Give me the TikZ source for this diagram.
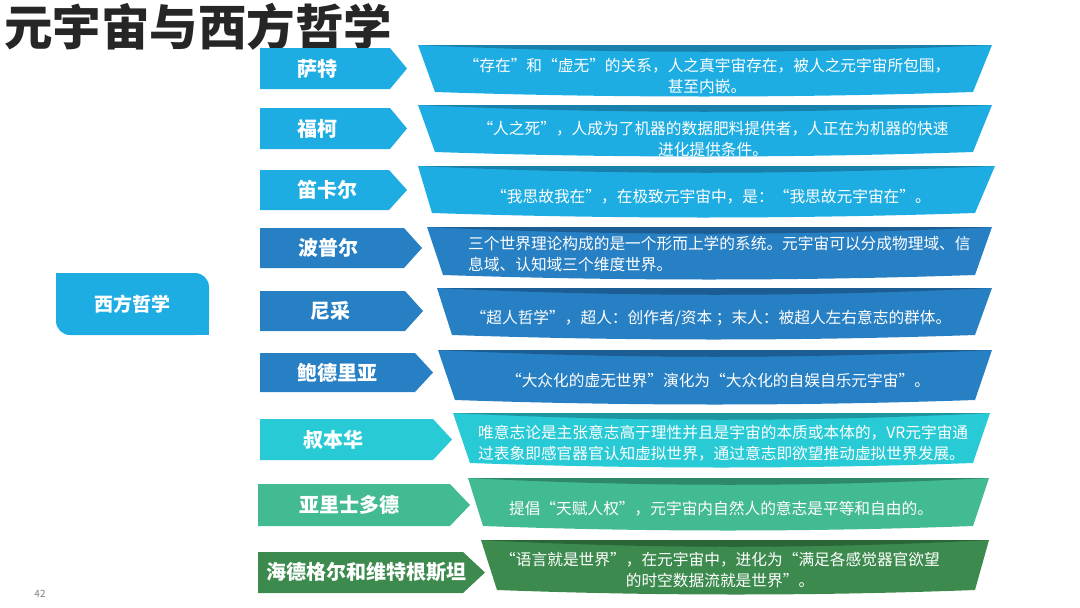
\documentclass[tikz,border=0pt]{standalone}
\usepackage{fontspec}
\setmainfont{Noto Sans CJK SC}
\usepackage{xcolor}
\usepackage{tikz}

\definecolor{skyblue}{RGB}{30,173,226}
\definecolor{skyband}{RGB}{24,128,170}
\definecolor{midblue}{RGB}{40,128,196}
\definecolor{midband}{RGB}{28,94,148}
\definecolor{aqua}{RGB}{40,202,214}
\definecolor{aquaband}{RGB}{30,150,160}
\definecolor{seagreen}{RGB}{66,186,146}
\definecolor{seaband}{RGB}{46,136,106}
\definecolor{leafgreen}{RGB}{60,138,78}
\definecolor{leafband}{RGB}{42,102,56}
\definecolor{titleink}{RGB}{38,38,38}

\begin{document}
\begin{tikzpicture}[
    x=1pt, y=-1pt,
    who/.style={text=white, inner sep=0pt,
        font=\fontsize{20}{24}\selectfont\bfseries},
    say/.style={text=white, inner sep=0pt, align=center,
        font=\fontsize{15.7}{21}\selectfont},
    sayleft/.style={say, align=left, anchor=west},
    topic/.style={text=white, inner sep=0pt,
        font=\fontsize{19}{22}\selectfont\bfseries}
]
\useasboundingbox (0,0) rectangle (1080,608);

\node[anchor=west, inner sep=0pt, text=titleink,
    font=\fontsize{48.5}{52}\selectfont\bfseries] (title) at (4,27) {元宇宙与西方哲学};
\node[text=gray, font=\fontsize{10}{12}\selectfont] (page) at (40,594) {42};

% root box
\fill[skyblue, rounded corners=14pt] (56,273) -- (209,273) -- (209,335) -- (56,335) -- cycle;
\fill[skyblue] (56,273) rectangle (80,300);
\fill[skyblue] (185,308) rectangle (209,335);
\node[topic] (root) at (132.5,304) {西方哲学};

% Sartre
\fill[skyblue] (260,48) -- (390,48) -- (407,68.5) -- (390,89) -- (260,89) -- cycle;
\node[who] (sartre) at (317,68.5) {萨特};
\fill[skyblue] (418,45) -- (992,45) -- (973,92) .. controls (794,98) and (614,98) .. (435,92) -- cycle;
\fill[skyband] (418,45) -- (992,45) .. controls (801,54) and (609,54) .. (418,45) -- cycle;
\node[say] (sartre-t) at (707,75.5) {“存在”和“虚无”的关系，人之真宇宙存在，被人之元宇宙所包围，\\甚至内嵌。};

% Foucault
\fill[skyblue] (260,108) -- (390,108) -- (407,128.5) -- (390,149) -- (260,149) -- cycle;
\node[who] (foucault) at (317,128.5) {福柯};
\fill[skyblue] (418,105) -- (992,105) -- (973,152) .. controls (794,158) and (614,158) .. (435,152) -- cycle;
\fill[skyband] (418,105) -- (992,105) .. controls (801,114) and (609,114) .. (418,105) -- cycle;
\node[say] (foucault-t) at (713,138.5) {“人之死”，人成为了机器的数据肥料提供者，人正在为机器的快速\\进化提供条件。};

% Descartes
\fill[skyblue] (260,170) -- (389,170) -- (407,190) -- (389,210) -- (260,210) -- cycle;
\node[who] (descartes) at (327,190) {笛卡尔};
\fill[skyblue] (418,166) -- (995,166) -- (975,213) .. controls (794,219) and (613,219) .. (432,213) -- cycle;
\fill[skyband] (418,166) -- (995,166) .. controls (803,175) and (610,175) .. (418,166) -- cycle;
\node[say] (descartes-t) at (711,197) {“我思故我在”，在极致元宇宙中，是：“我思故元宇宙在”。};

% Popper
\fill[midblue] (260,228) -- (404,228) -- (422,248) -- (404,268) -- (260,268) -- cycle;
\node[who] (popper) at (328,248) {波普尔};
\fill[midblue] (427,227) -- (992,227) -- (975,275) .. controls (798,281) and (620,281) .. (443,275) -- cycle;
\fill[midband] (427,227) -- (992,227) .. controls (804,236) and (615,236) .. (427,227) -- cycle;
\node[sayleft] (popper-t) at (468,254.5) {三个世界理论构成的是一个形而上学的系统。元宇宙可以分成物理域、信\\息域、认知域三个维度世界。};

% Nietzsche
\fill[midblue] (260,291) -- (405,291) -- (423,311) -- (405,331) -- (260,331) -- cycle;
\node[who] (nietzsche) at (330,311) {尼采};
\fill[midblue] (437,288) -- (992,288) -- (975,335) .. controls (801,341) and (626,341) .. (452,335) -- cycle;
\fill[midband] (437,288) -- (992,288) .. controls (807,297) and (622,297) .. (437,288) -- cycle;
\node[say] (nietzsche-t) at (711,318) {“超人哲学”，超人：创作者/资本 ；末人：被超人左右意志的群体。};

% Baudrillard
\fill[midblue] (260,353) -- (415,353) -- (433,372.5) -- (415,392) -- (260,392) -- cycle;
\node[who] (baudrillard) at (337,372.5) {鲍德里亚};
\fill[midblue] (438,350) -- (992,350) -- (975,400) .. controls (802,406) and (628,406) .. (455,400) -- cycle;
\fill[midband] (438,350) -- (992,350) .. controls (807,359) and (623,359) .. (438,350) -- cycle;
\node[say] (baudrillard-t) at (718,381) {“大众化的虚无世界”演化为“大众化的自娱自乐元宇宙”。};

% Schopenhauer
\fill[aqua] (260,419) -- (433,419) -- (452,439.5) -- (433,460) -- (260,460) -- cycle;
\node[who] (schopenhauer) at (333,439.5) {叔本华};
\fill[aqua] (453,413) -- (990,413) -- (973,463) .. controls (805,469) and (638,469) .. (470,463) -- cycle;
\fill[aquaband] (453,413) -- (990,413) .. controls (811,422) and (632,422) .. (453,413) -- cycle;
\node[sayleft] (schopenhauer-t) at (478,443) {唯意志论是主张意志高于理性并且是宇宙的本质或本体的，VR元宇宙通\\过表象即感官器官认知虚拟世界，通过意志即欲望推动虚拟世界发展。};

% Aristotle
\fill[seagreen] (258,484) -- (450,484) -- (470,505) -- (450,526) -- (258,526) -- cycle;
\node[who] (aristotle) at (349,505) {亚里士多德};
\fill[seagreen] (468,478) -- (989,478) -- (973,526) .. controls (810,532) and (646,532) .. (483,526) -- cycle;
\fill[seaband] (468,478) -- (989,478) .. controls (815,487) and (642,487) .. (468,478) -- cycle;
\node[say] (aristotle-t) at (721,509) {提倡“天赋人权”，元宇宙内自然人的意志是平等和自由的。};

% Heidegger, Wittgenstein
\fill[leafgreen] (258,552) -- (463,552) -- (485,572.5) -- (463,593) -- (258,593) -- cycle;
\node[who] (heidegger) at (366,572.5) {海德格尔和维特根斯坦};
\fill[leafgreen] (481,540) -- (989,540) -- (975,590) .. controls (816,596) and (656,596) .. (497,590) -- cycle;
\fill[leafband] (481,540) -- (989,540) .. controls (820,549) and (650,549) .. (481,540) -- cycle;
\node[say] (heidegger-t) at (720,570) {“语言就是世界”，在元宇宙中，进化为“满足各感觉器官欲望\\的时空数据流就是世界”。};

\end{tikzpicture}
\end{document}
